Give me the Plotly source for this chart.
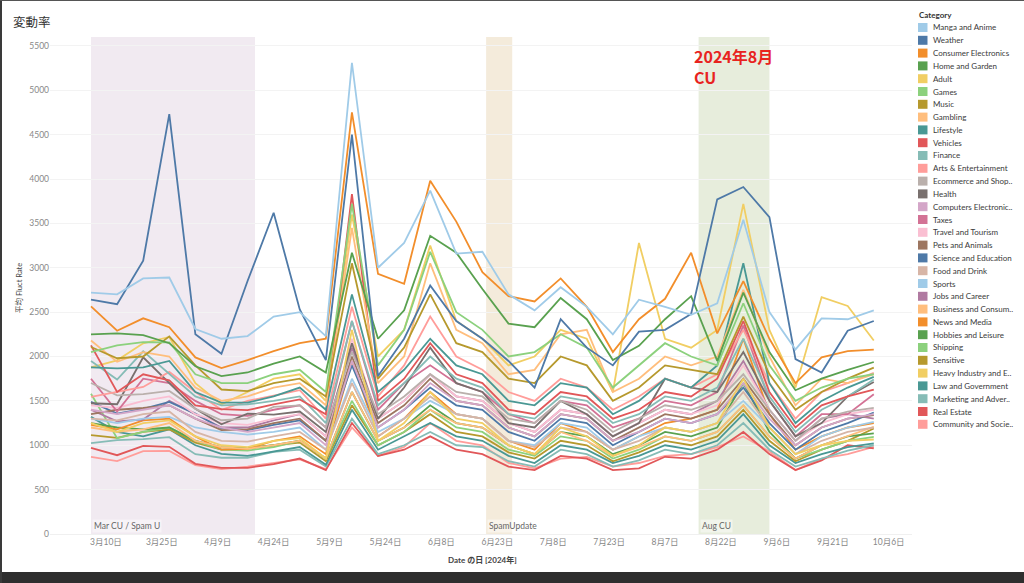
import plotly.graph_objects as go

dates = ["2024-03-06", "2024-03-13", "2024-03-20", "2024-03-27", "2024-04-03", "2024-04-10",
         "2024-04-17", "2024-04-24", "2024-05-01", "2024-05-08", "2024-05-15", "2024-05-22",
         "2024-05-29", "2024-06-05", "2024-06-12", "2024-06-19", "2024-06-26", "2024-07-03",
         "2024-07-10", "2024-07-17", "2024-07-24", "2024-07-31", "2024-08-07", "2024-08-14",
         "2024-08-21", "2024-08-28", "2024-09-04", "2024-09-11", "2024-09-18", "2024-09-25",
         "2024-10-02"]

tick_dates = ["2024-03-10", "2024-03-25", "2024-04-09", "2024-04-24", "2024-05-09", "2024-05-24",
              "2024-06-08", "2024-06-23", "2024-07-08", "2024-07-23", "2024-08-07", "2024-08-22",
              "2024-09-06", "2024-09-21", "2024-10-06"]
tick_labels = ["3月10日", "3月25日", "4月9日", "4月24日", "5月9日", "5月24日", "6月8日", "6月23日",
               "7月8日", "7月23日", "8月7日", "8月22日", "9月6日", "9月21日", "10月6日"]

y_ticks = [0, 500, 1000, 1500, 2000, 2500, 3000, 3500, 4000, 4500, 5000, 5500]

categories = ["Manga and Anime", "Weather", "Consumer Electronics", "Home and Garden", "Adult",
              "Games", "Music", "Gambling", "Lifestyle", "Vehicles", "Finance",
              "Arts & Entertainment", "Ecommerce and Shop..", "Health", "Computers Electronic..",
              "Taxes", "Travel and Tourism", "Pets and Animals", "Science and Education",
              "Food and Drink", "Sports", "Jobs and Career", "Business and Consum..",
              "News and Media", "Hobbies and Leisure", "Shipping", "Sensitive",
              "Heavy Industry and E..", "Law and Government", "Marketing and Adver..",
              "Real Estate", "Community and Socie.."]

colors = ["#A0CBE8", "#4E79A7", "#F28E2B", "#59A14F", "#F1CE63", "#8CD17D", "#B6992D", "#FFBE7D",
          "#499894", "#E15759", "#86BCB6", "#FF9D9A", "#BAB0AC", "#79706E", "#D4A6C8", "#D37295",
          "#FABFD2", "#9D7660", "#4E79A7", "#D7B5A6", "#A0CBE8", "#B07AA1", "#FFBE7D", "#F28E2B",
          "#59A14F", "#8CD17D", "#B6992D", "#F1CE63", "#499894", "#86BCB6", "#E15759", "#FF9D9A"]

manga_anime = [2720, 2700, 2880, 2890, 2310, 2200, 2230, 2450, 2500, 2230, 5310, 3000, 3280, 3870, 3160, 3180,
               2700, 2520, 2780, 2560, 2250, 2640, 2560, 2470, 2600, 3540, 2500, 2080, 2430, 2420, 2520]
weather = [2640, 2590, 3080, 4730, 2250, 2030, 2850, 3620, 2530, 1960, 4500, 1780, 2200, 2800, 2400, 2200,
           1950, 1650, 2420, 2100, 1900, 2280, 2300, 2480, 3770, 3910, 3570, 1970, 1820, 2290, 2400]
consumer_electronics = [2565, 2290, 2430, 2330, 1990, 1870, 1960, 2060, 2150, 2200, 4750, 2930, 2820, 3980, 3520, 2950,
                        2680, 2620, 2880, 2560, 2050, 2420, 2650, 3170, 2260, 2850, 2200, 1700, 1990, 2060, 2077]
home_garden = [2250, 2260, 2240, 2150, 1890, 1780, 1820, 1920, 2000, 1820, 3170, 2200, 2520, 3360, 3170, 2760,
               2370, 2330, 2660, 2420, 1960, 2120, 2420, 2680, 1950, 2720, 2050, 1620, 1750, 1850, 1938]
adult = [1250, 1150, 1250, 1280, 1100, 1000, 980, 1050, 1080, 850, 2300, 1050, 1250, 1600, 1300, 1250,
         1000, 900, 1200, 1100, 880, 1000, 1200, 1150, 1250, 1750, 1200, 900, 1000, 1050, 1065]
games = [2050, 2125, 2163, 2160, 1800, 1700, 1700, 1800, 1850, 1600, 3720, 1900, 2300, 3180, 2500, 2300,
         2000, 2050, 2250, 2100, 1650, 1900, 2150, 2000, 1900, 2600, 1900, 1500, 1650, 1750, 1800]
music = [2107, 1980, 2000, 2227, 1900, 1628, 1610, 1700, 1750, 1550, 3050, 1750, 2100, 2700, 2150, 2050,
         1750, 1700, 2000, 1900, 1500, 1650, 1900, 1850, 1800, 2450, 1800, 1400, 1600, 1750, 1875]
gambling = [2180, 1940, 2050, 2000, 1650, 1500, 1550, 1650, 1700, 1450, 3450, 1700, 2000, 3050, 2300, 2150,
            1800, 1850, 2250, 2300, 1600, 1750, 2000, 1900, 2000, 2750, 2000, 1450, 1750, 1700, 1800]
lifestyle = [1878, 1867, 1878, 1950, 1600, 1480, 1480, 1550, 1650, 1400, 2700, 1600, 1850, 2200, 1900, 1800,
             1500, 1450, 1700, 1650, 1350, 1500, 1750, 1650, 1900, 3050, 1700, 1250, 1500, 1650, 1770]
vehicles = [2126, 1600, 1800, 1732, 1450, 1406, 1395, 1460, 1516, 1350, 3830, 1500, 1750, 2150, 1800, 1700,
            1400, 1350, 1600, 1550, 1300, 1400, 1600, 1550, 1750, 2400, 1600, 1200, 1450, 1550, 1628]
finance = [1950, 1740, 2058, 1800, 1550, 1450, 1460, 1500, 1550, 1250, 2400, 1450, 1700, 2000, 1750, 1650,
           1350, 1300, 1550, 1500, 1250, 1350, 1550, 1500, 1650, 2200, 1550, 1150, 1400, 1550, 1740]
arts_entertainment = [1545, 1600, 1657, 1826, 1600, 1400, 1500, 1560, 1620, 1300, 2560, 1550, 1900, 2450, 2000, 1850,
                      1600, 1500, 1750, 1650, 1400, 1550, 1750, 1650, 1800, 2300, 1700, 1300, 1600, 1700, 1815]
ecommerce = [1702, 1563, 1575, 1612, 1410, 1282, 1300, 1432, 1450, 1200, 2050, 1350, 1550, 1800, 1600, 1550,
             1300, 1250, 1500, 1400, 1150, 1300, 1450, 1400, 1500, 1800, 1400, 1050, 1300, 1380, 1421]
health = [1473, 1462, 1991, 1700, 1410, 1237, 1357, 1345, 1380, 1150, 2150, 1300, 1650, 2100, 1700, 1600,
          1250, 1200, 1500, 1350, 1100, 1250, 1750, 1650, 1600, 2050, 1500, 1100, 1250, 1550, 1713]
computers = [1400, 1350, 1400, 1450, 1300, 1200, 1150, 1200, 1250, 1000, 1950, 1200, 1400, 1700, 1500, 1450,
             1200, 1100, 1350, 1300, 1050, 1150, 1300, 1250, 1350, 1700, 1300, 1000, 1200, 1300, 1350]
taxes = [1750, 1380, 1750, 1700, 1500, 1350, 1330, 1400, 1450, 1200, 2400, 1400, 1700, 1900, 1700, 1600,
         1350, 1250, 1500, 1450, 1200, 1300, 1500, 1450, 1600, 2350, 1500, 1100, 1350, 1350, 1575]
travel_tourism = [1450, 1420, 1500, 1550, 1350, 1250, 1230, 1300, 1350, 1100, 2200, 1300, 1500, 1800, 1550, 1500,
                  1250, 1150, 1400, 1350, 1100, 1250, 1400, 1350, 1450, 1900, 1400, 1050, 1250, 1350, 1400]
pets_animals = [1350, 1400, 1420, 1450, 1300, 1170, 1180, 1250, 1300, 1050, 2000, 1250, 1450, 1750, 1500, 1450,
                1200, 1100, 1350, 1300, 1050, 1200, 1350, 1300, 1400, 1750, 1350, 1000, 1200, 1300, 1339]
science_education = [1488, 1357, 1410, 1488, 1357, 1189, 1170, 1230, 1280, 1050, 1900, 1200, 1400, 1650, 1450, 1400,
                     1150, 1050, 1300, 1250, 1000, 1150, 1300, 1250, 1350, 1650, 1250, 950, 1150, 1250, 1369]
food_drink = [1300, 1280, 1350, 1380, 1150, 1050, 1040, 1100, 1150, 950, 1700, 1100, 1300, 1550, 1350, 1300,
              1050, 980, 1200, 1150, 950, 1050, 1200, 1150, 1250, 1600, 1200, 900, 1050, 1150, 1200]
sports = [1300, 1250, 1300, 1320, 1200, 1150, 1120, 1150, 1200, 950, 1750, 1150, 1300, 1500, 1350, 1300,
          1050, 1000, 1250, 1200, 950, 1100, 1200, 1150, 1250, 1500, 1200, 900, 1100, 1200, 1263]
jobs_career = [1400, 1270, 1290, 1500, 1350, 1200, 1200, 1280, 1350, 1100, 2100, 1300, 1500, 1800, 1550, 1500,
               1250, 1150, 1400, 1350, 1100, 1250, 1400, 1350, 1500, 1950, 1400, 1050, 1300, 1350, 1300]
business_consumer = [1200, 1150, 1180, 1250, 1050, 980, 960, 1000, 1050, 850, 1600, 1050, 1200, 1400, 1250, 1200,
                     1000, 900, 1150, 1050, 880, 980, 1100, 1050, 1150, 1450, 1100, 850, 1000, 1100, 1207]
news_media = [1230, 1180, 1280, 1300, 1100, 950, 960, 1050, 1100, 900, 1950, 1100, 1300, 1600, 1350, 1300,
              1050, 950, 1250, 1150, 950, 1100, 1250, 1300, 1400, 2200, 1350, 950, 1100, 1200, 1250]
hobbies_leisure = [1250, 1200, 1180, 1200, 1050, 980, 970, 1000, 1050, 850, 1600, 1050, 1200, 1450, 1250, 1200,
                   1000, 900, 1150, 1100, 900, 1000, 1150, 1100, 1200, 1700, 1150, 850, 1000, 1100, 1133]
shipping = [1580, 1080, 1150, 1200, 1050, 950, 940, 980, 1050, 850, 1500, 1000, 1150, 1400, 1200, 1150,
            950, 880, 1100, 1050, 850, 950, 1100, 1050, 1150, 1450, 1100, 850, 950, 1050, 1095]
sensitive = [1113, 1083, 1150, 1180, 1030, 950, 960, 1000, 1030, 820, 1450, 1000, 1150, 1350, 1150, 1100,
             920, 850, 1050, 1000, 820, 920, 1050, 1000, 1100, 1400, 1050, 820, 950, 1050, 1189]
heavy_industry = [1878, 1957, 2148, 2220, 1700, 1460, 1600, 1750, 1800, 1500, 3600, 2000, 2300, 3250, 2400, 2200,
                  1900, 2000, 2300, 2200, 1600, 3280, 2200, 2100, 2300, 3720, 2300, 1650, 2670, 2570, 2180]
law_government = [1320, 1150, 1100, 1180, 1000, 903, 880, 930, 980, 780, 1400, 950, 1100, 1250, 1100, 1050,
                  880, 800, 1000, 950, 800, 880, 1000, 950, 1050, 1350, 1000, 800, 900, 980, 1020]
marketing = [1023, 1057, 1070, 1091, 900, 859, 859, 926, 950, 760, 1300, 900, 1000, 1150, 1000, 980,
             820, 760, 950, 900, 760, 830, 950, 900, 1000, 1250, 950, 760, 850, 940, 1000]
real_estate = [971, 888, 993, 982, 791, 746, 746, 787, 850, 720, 1250, 880, 950, 1100, 950, 900,
               760, 720, 880, 850, 720, 740, 870, 850, 950, 1150, 900, 720, 830, 1000, 964]
community = [870, 821, 934, 937, 776, 731, 760, 800, 840, 730, 1200, 880, 980, 1250, 1050, 1000,
             800, 740, 850, 870, 760, 800, 880, 900, 980, 1100, 930, 720, 850, 900, 982]

series_values = [manga_anime, weather, consumer_electronics, home_garden, adult, games, music, gambling,
                 lifestyle, vehicles, finance, arts_entertainment, ecommerce, health, computers, taxes,
                 travel_tourism, pets_animals, science_education, food_drink, sports, jobs_career,
                 business_consumer, news_media, hobbies_leisure, shipping, sensitive, heavy_industry,
                 law_government, marketing, real_estate, community]

bands = [("2024-03-06", "2024-04-19", "#F1EAF1", "Mar CU / Spam U"),
         ("2024-06-20", "2024-06-27", "#F4EBDB", "SpamUpdate"),
         ("2024-08-16", "2024-09-04", "#E7EDDC", "Aug CU")]

FONT = "Lato, Noto Sans CJK JP, sans-serif"
W, H = 1024, 583
ML, MR, MT, MB = 50, 112, 37, 49
PW, PH = W - ML - MR, H - MT - MB


def px_x(x):
    return (x - ML) / PW


def px_y(y):
    return (H - MB - y) / PH


fig = go.Figure()

for name, col, vals in reversed(list(zip(categories, colors, series_values))):
    fig.add_trace(go.Scatter(x=dates, y=vals, mode="lines", name=name,
                             line=dict(color=col, width=1.8), showlegend=False))

shapes = []
annotations = []
for start, end, fill, label in bands:
    shapes.append(dict(type="rect", xref="x", yref="paper", x0=start, x1=end, y0=0, y1=1,
                       fillcolor=fill, line=dict(width=0), layer="below"))
    annotations.append(dict(x=start, y=0, xref="x", yref="paper", xanchor="left", yanchor="bottom",
                            text=label, showarrow=False, xshift=1, yshift=1,
                            font=dict(family=FONT, size=8.5, color="#666666"),
                            bgcolor="rgba(255,255,255,0.45)", borderpad=1))

# manual legend
annotations.append(dict(x=px_x(917), y=px_y(15), xref="paper", yref="paper", xanchor="left",
                        yanchor="middle", text="<b>Category</b>", showarrow=False,
                        font=dict(family=FONT, size=8, color="#333333")))
for i, (name, col) in enumerate(zip(categories, colors)):
    cy = 27.5 + 12.8 * i
    shapes.append(dict(type="rect", xref="paper", yref="paper", x0=px_x(918), x1=px_x(927.5),
                       y0=px_y(cy + 4.5), y1=px_y(cy - 4.5), fillcolor=col, line=dict(width=0)))
    annotations.append(dict(x=px_x(931), y=px_y(cy), xref="paper", yref="paper", xanchor="left",
                            yanchor="middle", text=name, showarrow=False,
                            font=dict(family=FONT, size=8, color="#3A3A3A")))

# titles
annotations.append(dict(x=px_x(11), y=px_y(22), xref="paper", yref="paper", xanchor="left",
                        yanchor="middle", text="変動率", showarrow=False,
                        font=dict(family="Noto Sans CJK JP, sans-serif", size=12.5, color="#333333")))
annotations.append(dict(x=px_x(19), y=px_y(288), xref="paper", yref="paper", xanchor="center",
                        yanchor="middle", text="平均 Fluct Rate", textangle=-90, showarrow=False,
                        font=dict(family=FONT, size=7.5, color="#444444")))
annotations.append(dict(x=px_x(482), y=px_y(560), xref="paper", yref="paper", xanchor="center",
                        yanchor="middle", text="<b>Date の日 [2024年]</b>", showarrow=False,
                        font=dict(family=FONT, size=8, color="#444444")))
annotations.append(dict(x=px_x(692), y=px_y(42), xref="paper", yref="paper", xanchor="left",
                        yanchor="top", text="<b>2024年8月<br>CU</b>", align="left", showarrow=False,
                        font=dict(family="Noto Sans CJK JP, sans-serif", size=16, color="#E8231E")))

# screenshot frame
shapes.append(dict(type="rect", xref="paper", yref="paper", x0=px_x(0), x1=px_x(W), y0=px_y(H),
                   y1=px_y(572), fillcolor="#2E2E2E", line=dict(width=0)))
shapes.append(dict(type="rect", xref="paper", yref="paper", x0=px_x(0), x1=px_x(2), y0=px_y(H),
                   y1=px_y(0), fillcolor="#3A3A3A", line=dict(width=0)))
shapes.append(dict(type="rect", xref="paper", yref="paper", x0=px_x(0), x1=px_x(W), y0=px_y(1),
                   y1=px_y(0), fillcolor="#555555", line=dict(width=0)))

fig.update_layout(
    width=W, height=H,
    margin=dict(l=ML, r=MR, t=MT, b=MB),
    paper_bgcolor="white", plot_bgcolor="white",
    font=dict(family=FONT, size=8.5, color="#888888"),
    shapes=shapes, annotations=annotations,
    showlegend=False, hovermode=False,
    xaxis=dict(type="date", range=["2024-02-24", "2024-10-12 06:00"], tickvals=tick_dates,
               ticktext=tick_labels, showgrid=False, zeroline=False, showline=True,
               linecolor="#F0F0F0", linewidth=1, ticks="", tickfont=dict(size=8.5, color="#888888")),
    yaxis=dict(range=[0, 5600], tickvals=y_ticks, showgrid=True, gridcolor="#F3F3F3",
               zeroline=False, ticks="", tickfont=dict(size=8.5, color="#888888")),
)

fig.write_html("out.html", config={"displayModeBar": False},
               post_script="document.body.style.margin='0';document.body.style.overflow='hidden';")
